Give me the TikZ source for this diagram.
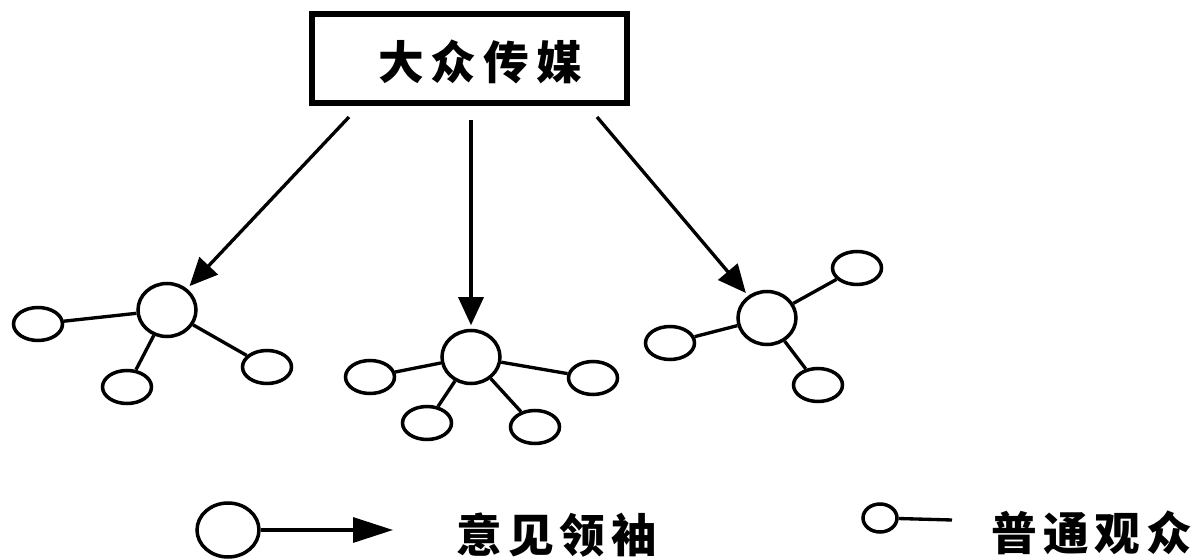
\documentclass[tikz,border=0pt]{standalone}
\usepackage{fontspec}
\newfontfamily\cjk{Noto Sans CJK SC}
\usetikzlibrary{shapes.geometric,arrows.meta}
\begin{document}
\begin{tikzpicture}[x=0.02cm,y=-0.02cm,
 media/.style={draw,line width=3pt,minimum width=6.3cm,minimum height=1.78cm,inner sep=0},
 leader/.style={ellipse,draw,line width=2pt,minimum width=1.16cm,minimum height=1.06cm,inner sep=0},
 member/.style={ellipse,draw,line width=2pt,minimum width=0.98cm,minimum height=0.66cm,inner sep=0},
 flow/.style={line width=1.9pt,shorten >=2pt,-{Triangle[length=0.56cm,width=0.5cm]}},
 tie/.style={line width=1.9pt},
 cjktext/.style={font=\cjk\bfseries\fontsize{26}{30}\selectfont,inner sep=0}
]
\useasboundingbox (0,0) rectangle (1197,560);
% mass media box
\node[media] (m) at (469.5,58.5) {};
\node[cjktext] (mt) at (480,62) {大\hspace{0.14cm}众\hspace{0.14cm}传\hspace{0.14cm}媒};
% arrow starts
\coordinate (s1) at (349,117);
\coordinate (s2) at (471,120);
\coordinate (s3) at (597,117);
% cluster 1
\node[leader] (L1) at (167,310) {};
\node[member] (a1) at (38,324) {};
\node[member] (a2) at (127,387) {};
\node[member] (a3) at (267,367) {};
% cluster 2
\node[leader] (L2) at (471,357) {};
\node[member] (b1) at (370,377) {};
\node[member] (b2) at (427,423) {};
\node[member] (b3) at (535,427) {};
\node[member] (b4) at (593,378) {};
% cluster 3
\node[leader] (L3) at (767,318) {};
\node[member] (c1) at (857,268) {};
\node[member] (c2) at (670,343) {};
\node[member] (c3) at (818,385) {};
% arrows
\draw[flow] (s1) -- (L1);
\draw[flow] (s2) -- (L2);
\draw[flow] (s3) -- (L3);
% ties
\draw[tie] (L1) -- (a1);
\draw[tie] (L1) -- (a2);
\draw[tie] (L1) -- (a3);
\draw[tie] (L2) -- (b1);
\draw[tie] (L2) -- (b2);
\draw[tie] (L2) -- (b3);
\draw[tie] (L2) -- (b4);
\draw[tie] (L3) -- (c1);
\draw[tie] (L3) -- (c2);
\draw[tie] (L3) -- (c3);
% legend
\node[leader,minimum width=1.24cm,minimum height=1.08cm] (kl) at (228,530) {};
\coordinate (klend) at (393,530);
\draw[line width=1.9pt,-{Triangle[length=0.8cm,width=0.5cm]}] (kl) -- (klend);
\node[cjktext] (klt) at (557,535) {意\hspace{0.12cm}见\hspace{0.12cm}领\hspace{0.12cm}袖};
\node[member,minimum width=0.68cm,minimum height=0.56cm] (km) at (880,518) {};
\coordinate (kmend) at (952,520);
\draw[tie] (km) -- (kmend);
\node[cjktext] (kmt) at (1092,533) {普\hspace{0.12cm}通\hspace{0.12cm}观\hspace{0.12cm}众};
\end{tikzpicture}
\end{document}
